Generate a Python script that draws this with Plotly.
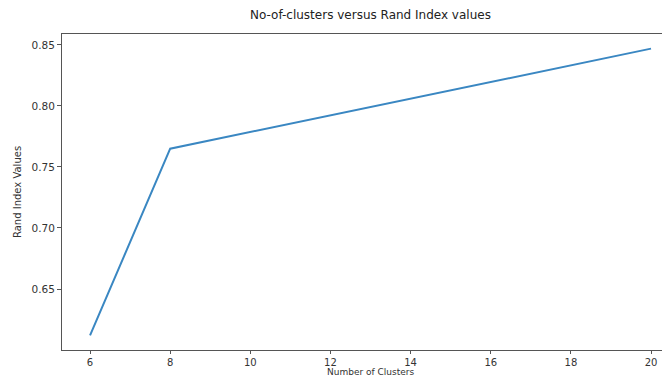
import plotly.graph_objects as go

clusters = [6, 8, 20]
rand_index = [0.612, 0.765, 0.847]
x_ticks = [6, 8, 10, 12, 14, 16, 18, 20]
y_ticks = [0.65, 0.70, 0.75, 0.80, 0.85]

title_text = "No-of-clusters versus Rand Index values"
x_label = "Number of Clusters"
y_label = "Rand Index Values"

OFF = 8  # page body margin
W, H = 670, 377
L, R, T, B = 62 - OFF, 0, 34 - OFF, 377 - (350 - OFF)
plot_w = W - L - R
plot_h = H - T - B
px_per_unit = 40.07

font_family = "DejaVu Sans, sans-serif"
text_color = "#333333"
axis_color = "#555555"

fig = go.Figure()
fig.add_trace(go.Scatter(
    x=clusters, y=rand_index, mode="lines",
    line=dict(color="#3a87c2", width=2),
    showlegend=False, hoverinfo="skip"))

fig.update_layout(
    width=W, height=H,
    margin=dict(l=L, r=R, t=T, b=B, pad=0, autoexpand=False),
    paper_bgcolor="white", plot_bgcolor="white",
    font=dict(family=font_family, color=text_color, size=10),
    xaxis=dict(
        range=[5.3, 5.3 + plot_w / px_per_unit],
        tickvals=x_ticks, ticks="outside", ticklen=3, tickcolor=axis_color,
        showline=True, linecolor=axis_color, linewidth=1, mirror=True,
        showgrid=False, zeroline=False, tickfont=dict(size=10, color=text_color)),
    yaxis=dict(
        range=[0.600, 0.859],
        tickvals=y_ticks, tickformat=".2f", ticks="outside", ticklen=4, tickcolor=axis_color,
        showline=True, linecolor=axis_color, linewidth=1,
        showgrid=False, zeroline=False, tickfont=dict(size=10.5, color=text_color)),
)

cx = (370.5 - OFF - L) / plot_w
fig.add_annotation(text=title_text, xref="paper", yref="paper",
                   x=cx, y=1 + (T - (15 - OFF)) / plot_h, xanchor="center", yanchor="middle",
                   showarrow=False, font=dict(size=12, color="#222222"))
fig.add_annotation(text=x_label, xref="paper", yref="paper",
                   x=cx, y=-((365.5 - OFF) - (T + plot_h)) / plot_h, xanchor="center", yanchor="top",
                   borderpad=0, showarrow=False, font=dict(size=9, color=text_color))
fig.add_annotation(text=y_label, xref="paper", yref="paper",
                   x=((17 - OFF) - L) / plot_w, y=0.5, xanchor="center", yanchor="middle",
                   textangle=-90, showarrow=False, font=dict(size=10, color=text_color))

fig.write_html("out.html")
